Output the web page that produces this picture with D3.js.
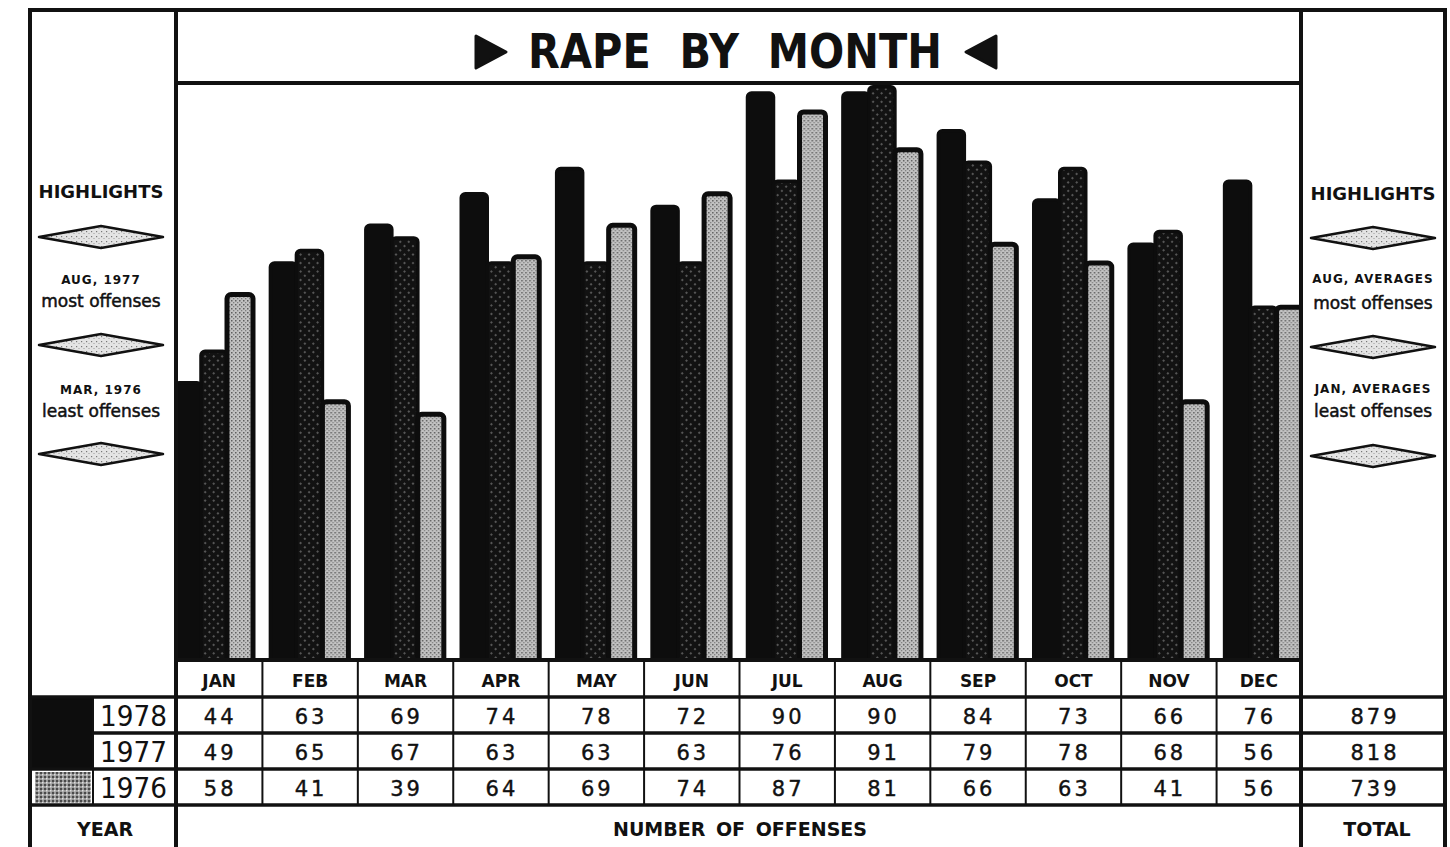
<!DOCTYPE html>
<html>
<head>
<meta charset="utf-8">
<script src="https://cdnjs.cloudflare.com/ajax/libs/d3/7.8.5/d3.min.js"></script>
<style>
  body { margin: 0; background: #fff; }
  text { font-family: "DejaVu Sans", sans-serif; fill: #111; }
</style>
</head>
<body>
<div id="chart"></div>
<script>
var months = ["JAN", "FEB", "MAR", "APR", "MAY", "JUN", "JUL", "AUG", "SEP", "OCT", "NOV", "DEC"];
var years = ["1978", "1977", "1976"];
var offenses1978 = [44, 63, 69, 74, 78, 72, 90, 90, 84, 73, 66, 76];
var offenses1977 = [49, 65, 67, 63, 63, 63, 76, 91, 79, 78, 68, 56];
var offenses1976 = [58, 41, 39, 64, 69, 74, 87, 81, 66, 63, 41, 56];
var leftNotes = [["AUG, 1977", "most offenses"], ["MAR, 1976", "least offenses"]];
var rightNotes = [["AUG, AVERAGES", "most offenses"], ["JAN, AVERAGES", "least offenses"]];
var titleText = "RAPE  BY  MONTH";

function main() {
    var width = 1450,
      height = 847;

    var series = [offenses1978, offenses1977, offenses1976];
    var totals = series.map(function (s) { return d3.sum(s); });

    // frame geometry
    var frameL = 30, panelL = 176, panelR = 1301, frameR = 1445,
      top = 10, titleLine = 83, base = 660, rowTops = [697, 733, 769, 805];

    var x0 = d3.scaleBand().domain(months).range([167, 1312]);
    var x1 = d3.scaleBand().domain(years).range([8, 86]);
    var y = d3.scaleLinear().domain([0, 100]).range([base, base - 630]);

    var svg = d3.select("#chart").append("svg").attr("width", width).attr("height", height);
    var defs = svg.append("defs");

    // stipple for 1977 bars
    var pd = defs.append("pattern").attr("id", "dark").attr("width", 6).attr("height", 6)
      .attr("patternUnits", "userSpaceOnUse").attr("patternTransform", "rotate(45)");
    pd.append("rect").attr("width", 6).attr("height", 6).attr("fill", "#121212");
    pd.append("circle").attr("cx", 3).attr("cy", 3).attr("r", 1).attr("fill", "#6c6c6c");

    // light stipple for 1976 bars
    var pl = defs.append("pattern").attr("id", "light").attr("width", 4).attr("height", 4)
      .attr("patternUnits", "userSpaceOnUse");
    pl.append("rect").attr("width", 4).attr("height", 4).attr("fill", "#c2c2c2");
    pl.append("rect").attr("x", 0).attr("y", 0).attr("width", 1.5).attr("height", 1.5).attr("fill", "#5e5e5e");
    pl.append("rect").attr("x", 2).attr("y", 2).attr("width", 1.3).attr("height", 1.3).attr("fill", "#7e7e7e");

    // paler stipple for the diamonds
    var pp = defs.append("pattern").attr("id", "pale").attr("width", 5).attr("height", 5)
      .attr("patternUnits", "userSpaceOnUse");
    pp.append("rect").attr("width", 5).attr("height", 5).attr("fill", "#e4e4e4");
    pp.append("rect").attr("x", 1).attr("y", 1).attr("width", 1.2).attr("height", 1.2).attr("fill", "#777");
    pp.append("rect").attr("x", 3.5).attr("y", 3).attr("width", 1).attr("height", 1).attr("fill", "#999");

    var pm = defs.append("pattern").attr("id", "mid").attr("width", 4).attr("height", 4)
      .attr("patternUnits", "userSpaceOnUse");
    pm.append("rect").attr("width", 4).attr("height", 4).attr("fill", "#9a9a9a");
    pm.append("rect").attr("width", 2).attr("height", 2).attr("fill", "#4a4a4a");
    pm.append("rect").attr("x", 2).attr("y", 2).attr("width", 1.5).attr("height", 1.5).attr("fill", "#e0e0e0");

    defs.append("clipPath").attr("id", "plot").append("rect")
      .attr("x", panelL).attr("y", titleLine).attr("width", panelR - panelL).attr("height", base - titleLine);

    var fills = ["#0d0d0d", "url(#dark)", "url(#light)"];

    // bars
    var bars = svg.append("g").attr("clip-path", "url(#plot)");
    var groups = bars.selectAll(".month")
        .data(months)
      .enter().append("g")
        .attr("class", "month")
        .attr("transform", function (d) { return "translate(" + x0(d) + ",0)"; });

    groups.selectAll("rect")
        .data(function (d, i) { return years.map(function (yr, k) { return { year: yr, k: k, v: series[k][i] }; }); })
      .enter().append("rect")
        .attr("x", function (d) { return x1(d.year); })
        .attr("y", function (d) { return y(d.v); })
        .attr("width", x1.bandwidth())
        .attr("height", function (d) { return base - y(d.v) + 6; })
        .attr("rx", 4)
        .attr("fill", function (d) { return fills[d.k]; })
        .attr("stroke", "#0d0d0d")
        .attr("stroke-width", function (d) { return d.k == 2 ? 5 : 3.5; });

    // legend swatches
    svg.append("rect").attr("x", frameL).attr("y", rowTops[0]).attr("width", 63).attr("height", rowTops[2] - rowTops[0]).attr("fill", "#0d0d0d");
    svg.append("rect").attr("x", 35).attr("y", rowTops[2] + 3).attr("width", 56).attr("height", 31).attr("fill", "url(#mid)");

    // lines
    var lines = svg.append("g").attr("stroke", "#111").attr("stroke-linecap", "square");
    function line(x1_, y1_, x2_, y2_, w) {
        lines.append("line").attr("x1", x1_).attr("y1", y1_).attr("x2", x2_).attr("y2", y2_).attr("stroke-width", w);
    }
    line(frameL, top, frameR, top, 4);
    line(frameL, top, frameL, height, 4);
    line(frameR, top, frameR, height, 4);
    line(panelL, top, panelL, height, 4);
    line(panelR, top, panelR, height, 4);
    line(panelL, titleLine, panelR, titleLine, 4);
    line(panelL, base, panelR, base, 4);
    line(frameL, rowTops[0], frameR, rowTops[0], 3.5);
    line(93, rowTops[1], frameR, rowTops[1], 3.5);
    line(frameL, rowTops[2], frameR, rowTops[2], 3.5);
    line(frameL, rowTops[3], frameR, rowTops[3], 3.5);
    line(93, rowTops[0], 93, rowTops[3], 2);
    months.slice(1).forEach(function (m) {
        line(x0(m), base, x0(m), rowTops[3], 2);
    });

    function cellMid(m) {
        return (Math.max(x0(m), panelL) + Math.min(x0(m) + x0.bandwidth(), panelR)) / 2;
    }

    // month header
    svg.append("g").selectAll("text")
        .data(months)
      .enter().append("text")
        .attr("x", cellMid)
        .attr("y", 687)
        .attr("text-anchor", "middle")
        .attr("font-size", 17)
        .attr("font-weight", "bold")
        .text(function (d) { return d; });

    // value rows
    series.forEach(function (s, k) {
        var row = svg.append("g");
        row.selectAll("text")
            .data(s)
          .enter().append("text")
            .attr("x", function (d, i) { return cellMid(months[i]) + 1; })
            .attr("y", rowTops[k] + 27)
            .attr("text-anchor", "middle")
            .attr("font-size", 21)
            .attr("letter-spacing", 3)
            .attr("stroke", "#111").attr("stroke-width", 0.4)
            .text(function (d) { return d; });
        row.append("text")
            .attr("x", (panelR + frameR) / 2 + 2)
            .attr("y", rowTops[k] + 27)
            .attr("text-anchor", "middle")
            .attr("font-size", 21)
            .attr("letter-spacing", 3)
            .attr("stroke", "#111").attr("stroke-width", 0.4)
            .text(totals[k]);
        row.append("text")
            .attr("x", 167)
            .attr("y", rowTops[k] + 29)
            .attr("text-anchor", "end")
            .attr("font-size", 28)
            .attr("textLength", 67).attr("lengthAdjust", "spacingAndGlyphs")
            .text(years[k]);
    });

    // footer
    var foot = [["YEAR", 105], ["NUMBER OF OFFENSES", 740], ["TOTAL", 1377]];
    svg.append("g").selectAll("text")
        .data(foot)
      .enter().append("text")
        .attr("x", function (d) { return d[1]; })
        .attr("y", 836)
        .attr("text-anchor", "middle")
        .attr("font-size", 19)
        .attr("font-weight", "bold")
        .attr("word-spacing", 4)
        .text(function (d) { return d[0]; });

    // title
    svg.append("text")
        .attr("x", 528).attr("y", 68)
        .attr("font-size", 48).attr("font-weight", "bold")
        .attr("textLength", 414).attr("lengthAdjust", "spacingAndGlyphs")
        .style("white-space", "pre")
        .text(titleText);
    svg.append("path").attr("d", "M476,36 L506,52 L476,68 Z").attr("fill", "#111")
      .attr("stroke", "#111").attr("stroke-width", 3).attr("stroke-linejoin", "round");
    svg.append("path").attr("d", "M996,36 L966,52 L996,68 Z").attr("fill", "#111")
      .attr("stroke", "#111").attr("stroke-width", 3).attr("stroke-linejoin", "round");

    // highlight panels
    function panel(cx, notes, heads, dys, textYs) {
        var g = svg.append("g");
        g.append("text").attr("x", cx).attr("y", heads)
          .attr("text-anchor", "middle").attr("font-size", 18).attr("font-weight", "bold")
          .text("HIGHLIGHTS");
        g.selectAll("path")
            .data(dys)
          .enter().append("path")
            .attr("d", function (d) { return "M" + (cx - 62) + "," + d + " L" + cx + "," + (d - 11) + " L" + (cx + 62) + "," + d + " L" + cx + "," + (d + 11) + " Z"; })
            .attr("fill", "url(#pale)")
            .attr("stroke", "#111")
            .attr("stroke-width", 2.5)
            .attr("stroke-linejoin", "round");
        notes.forEach(function (n, i) {
            g.append("text").attr("x", cx).attr("y", textYs[i][0])
              .attr("text-anchor", "middle").attr("font-size", 12).attr("font-weight", "bold")
              .attr("letter-spacing", 1)
              .text(n[0]);
            g.append("text").attr("x", cx).attr("y", textYs[i][1])
              .attr("text-anchor", "middle").attr("font-size", 17)
              .attr("stroke", "#111").attr("stroke-width", 0.5)
              .text(n[1]);
        });
    }
    panel(101, leftNotes, 198, [237, 345, 454], [[284, 307], [394, 417]]);
    panel(1373, rightNotes, 200, [238, 347, 456], [[283, 309], [393, 417]]);
}

main();
</script>
</body>
</html>
